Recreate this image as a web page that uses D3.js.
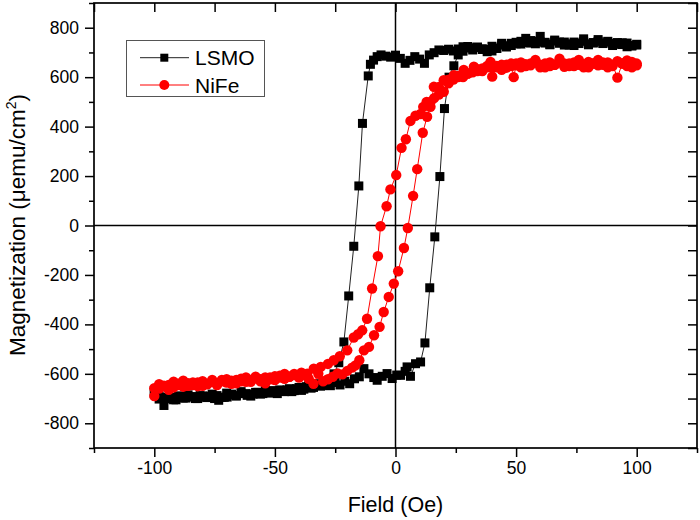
<!DOCTYPE html>
<html><head><meta charset="utf-8">
<script src="https://cdn.jsdelivr.net/npm/d3@7"></script>
<style>
html,body{margin:0;padding:0;background:#fff;}
svg{display:block;font-family:"Liberation Sans",Arial,sans-serif;}
</style></head>
<body><svg id="chart" width="700" height="520"></svg>
<script>
// ---------- DATA ----------
const seriesNames = ["LSMO", "NiFe"];
const xMajorTicks = [-100, -50, 0, 50, 100];
const yMajorTicks = [-800, -600, -400, -200, 0, 200, 400, 600, 800];

const LSMO_desc_field = [100,98,96,94,92,90,88,86,84,82,80,78,76,74,72,70,68,66,64,62,60,58,56,54,52,50,48,46,44,42,40,38,36,34,32,30,28,26,24,22,20,18,16,14,12,10,8,6,4,2,0,-2,-4,-6,-7.6,-9.1,-10.4,-11.3,-13.7,-15.2,-17.3,-19.4,-21.4,-23.5,-25.5,-27.5,-29.7,-32,-34,-36,-38,-40,-42,-44,-46,-48,-50,-52,-54,-56,-58,-60,-62,-64,-66,-68,-70,-72,-74,-76,-78,-80,-82,-84,-86,-88,-90,-92,-94,-96,-98,-100];
const LSMO_desc_mag = [730,726,723,739,733,728,742,736,745,738,731,755,736,728,730,742,737,746,731,741,765,746,738,757,734,741,737,727,737,716,706,703,712,720,719,724,723,714,706,713,708,710,699,690,656,673,683,668,656,676,689,681,685,690,683,669,652,605,413,160,-84,-285,-471,-555,-600,-625,-647,-640,-655,-648,-662,-655,-668,-660,-672,-665,-670,-678,-668,-682,-675,-690,-680,-672,-688,-682,-678,-695,-688,-682,-696,-690,-700,-692,-685,-698,-690,-705,-700,-695,-702,-680];
const LSMO_asc_field = [-100,-98,-96,-94.7,-93,-91,-89,-87,-85,-83,-81,-79,-77,-75,-73.3,-71,-69.8,-68,-66,-64,-61.5,-59,-57,-55,-53,-51,-49,-47,-45,-43,-41,-39,-37,-35,-33,-31,-29,-27,-25,-23,-21,-19,-17,-15,-13.1,-11,-9,-7.6,-5.5,-3.5,-1.4,0.5,2.1,4,4.8,6.2,8.3,10.4,12.2,14.2,16.3,18.4,20.3,22.2,24.2,26,28,30,32,34,36,38,40,42,44,46,48,50,52,54,56,58,60,62,64,66,68,70,72,74,76,78,80,82,84,86,88,90,92,94,96,98,100];
const LSMO_asc_mag = [-667,-690,-728,-701,-695,-705,-690,-698,-694,-700,-688,-695,-690,-700,-707,-695,-694,-685,-690,-680,-687,-682,-675,-680,-672,-668,-680,-670,-665,-672,-660,-667,-652,-658,-645,-650,-640,-648,-635,-645,-630,-640,-620,-612,-579,-600,-615,-626,-610,-599,-619,-605,-606,-590,-572,-610,-559,-552,-475,-252,-46,198,473,600,646,690,705,718,710,722,715,712,725,718,730,722,728,735,745,740,748,735,742,738,733,750,742,730,735,742,738,745,735,740,752,738,745,736,740,732,738,728,733];

const NiFe_desc_field = [100,98,96,94,92,90,88,86,84,82,80,78,76,74,72,70,68,66,64,62,60,58,56,54,52,50,48,46,44,42,40,38,36,34,32,30,28,26,24,22,20,18,16,14.5,12.9,11.5,10.4,8.3,6.2,4.3,2.5,0.3,-2.1,-3.7,-6.2,-7.3,-9.7,-11.8,-13.8,-15.5,-17.3,-20,-23.1,-25.6,-28,-31,-33.9,-36.6,-39,-42,-44,-46,-48,-50,-52,-54,-56,-58,-60,-62,-64,-66,-68,-70,-72,-74,-76,-78,-80,-82,-84,-86,-88,-90,-92,-94,-96,-98,-100];
const NiFe_desc_mag = [648,662,645,655,598,650,640,660,648,655,640,652,670,645,655,642,660,650,645,655,640,662,648,652,640,655,645,650,630,645,638,640,625,632,620,615,600,605,590,575,541,530,515,500,500,480,451,444,423,349,314,204,146,78,-3,-124,-255,-377,-424,-440,-453,-505,-529,-545,-560,-572,-579,-599,-595,-605,-612,-600,-615,-610,-622,-615,-630,-618,-625,-632,-620,-638,-628,-635,-625,-642,-632,-640,-648,-635,-645,-638,-652,-640,-655,-645,-650,-642,-658,-662,-668];
const NiFe_asc_field = [-100,-98,-96,-94,-92,-90,-88,-86,-84,-82,-80,-78,-76,-74,-72,-70,-68,-66,-64,-62,-60,-58,-56,-54,-52,-50,-48,-46,-44,-42,-40,-38,-36,-34,-32,-30,-28,-26,-24,-22,-20,-18,-16.6,-15,-13.1,-11,-8.9,-6.6,-4.9,-2.8,-0.7,1.1,3.5,5.1,7.3,9,11.3,13.1,14.5,15.9,18,20,22,24.2,26,28.3,30,32.5,34,36,38,39.4,40.1,42,44,46,48,49,50,52,54,56,58,60,62,64,66,68,70,72,74,76,78,80,82,84,86,88,90,92,94,96,98,100];
const NiFe_asc_mag = [-690,-660,-648,-665,-632,-645,-628,-648,-635,-650,-630,-642,-625,-645,-630,-622,-640,-625,-630,-615,-632,-612,-622,-638,-615,-625,-608,-620,-612,-600,-615,-605,-620,-640,-600,-630,-622,-612,-598,-602,-588,-575,-566,-545,-505,-491,-444,-410,-350,-289,-235,-185,-91,-10,120,228,375,440,480,561,560,588,590,608,600,629,615,642,625,635,645,662,602,640,650,638,655,600,648,660,645,655,670,650,640,660,650,675,655,645,660,650,640,662,655,670,650,660,645,665,655,668,640,655];

// ---------- LAYOUT ----------
const svg = d3.select("#chart");
const L = 94, R = 697, T = 3, B = 448;
const x = d3.scaleLinear().domain([-125, 125]).range([L, R]);
const y = d3.scaleLinear().domain([-900, 900]).range([B, T]);

const xMinor = d3.range(-125, 126, 25).filter(v => !xMajorTicks.includes(v));
const xAll = d3.range(-125, 126, 25);
const yMinor = d3.range(-900, 901, 100).filter(v => !yMajorTicks.includes(v));
const yAll = d3.range(-900, 901, 100);
const fmt = d => String(d);

function styleAxis(g){
  g.select(".domain").remove();
  g.selectAll(".tick line").attr("stroke", "#000").attr("stroke-width", 1.5);
  g.selectAll(".tick text").attr("fill", "#000").style("font-size", "17.5px")
    .style("font-family", '"Liberation Sans",Arial,sans-serif');
}

// bottom axis
svg.append("g").attr("transform", `translate(0,${B})`)
  .call(d3.axisBottom(x).tickValues(xMajorTicks).tickSize(9).tickPadding(5).tickFormat(fmt))
  .call(styleAxis);
svg.append("g").attr("transform", `translate(0,${B})`)
  .call(d3.axisBottom(x).tickValues(xMinor).tickSize(5).tickFormat(""))
  .call(styleAxis);
// top axis (inward)
svg.append("g").attr("transform", `translate(0,${T})`)
  .call(d3.axisTop(x).tickValues(xAll).tickSize(-9).tickFormat(""))
  .call(styleAxis);
// left axis
svg.append("g").attr("transform", `translate(${L},0)`)
  .call(d3.axisLeft(y).tickValues(yMajorTicks).tickSize(9).tickPadding(6).tickFormat(fmt))
  .call(styleAxis);
svg.append("g").attr("transform", `translate(${L},0)`)
  .call(d3.axisLeft(y).tickValues(yMinor).tickSize(5).tickFormat(""))
  .call(styleAxis);
// right axis (inward)
svg.append("g").attr("transform", `translate(${R},0)`)
  .call(d3.axisRight(y).tickValues(yAll).tickSize(-9).tickFormat(""))
  .call(styleAxis);

// zero lines
svg.append("line").attr("x1", L).attr("x2", R).attr("y1", y(0)).attr("y2", y(0))
  .attr("stroke", "#000").attr("stroke-width", 1.5);
svg.append("line").attr("x1", x(0)).attr("x2", x(0)).attr("y1", T).attr("y2", B)
  .attr("stroke", "#000").attr("stroke-width", 1.5);

// frame
svg.append("rect").attr("x", L).attr("y", T).attr("width", R - L).attr("height", B - T)
  .attr("fill", "none").attr("stroke", "#000").attr("stroke-width", 1.7);

// ---------- DATA MARKS ----------
function pts(f, m){ return f.map((v, i) => ({f: v, m: m[i]})); }
const lsmo = pts(LSMO_desc_field, LSMO_desc_mag).concat(pts(LSMO_asc_field, LSMO_asc_mag));
const nife = pts(NiFe_desc_field, NiFe_desc_mag).concat(pts(NiFe_asc_field, NiFe_asc_mag));

const line = d3.line().x(d => x(d.f)).y(d => y(d.m));

svg.append("path").datum(lsmo).attr("d", line).attr("fill", "none")
  .attr("stroke", "#222").attr("stroke-width", 1);
const sq = 9;
svg.append("g").selectAll("rect").data(lsmo).join("rect")
  .attr("x", d => x(d.f) - sq/2).attr("y", d => y(d.m) - sq/2)
  .attr("width", sq).attr("height", sq).attr("fill", "#000");

svg.append("path").datum(nife).attr("d", line).attr("fill", "none")
  .attr("stroke", "#ff0000").attr("stroke-width", 1);
svg.append("g").selectAll("circle").data(nife).join("circle")
  .attr("cx", d => x(d.f)).attr("cy", d => y(d.m)).attr("r", 5.2).attr("fill", "#ff0000");

// ---------- LEGEND ----------
const lg = svg.append("g");
lg.append("rect").attr("x", 126.5).attr("y", 40.5).attr("width", 138).attr("height", 56)
  .attr("fill", "#fff").attr("stroke", "#555").attr("stroke-width", 1);
const legendRows = [
  {name: seriesNames[0], color: "#000", line: "#222", y: 57.7, shape: "square"},
  {name: seriesNames[1], color: "#ff0000", line: "#ff0000", y: 85, shape: "circle"}
];
legendRows.forEach(r => {
  lg.append("line").attr("x1", 140).attr("x2", 189).attr("y1", r.y).attr("y2", r.y)
    .attr("stroke", r.line).attr("stroke-width", 1);
  if (r.shape === "square") {
    lg.append("rect").attr("x", 164.3 - 4).attr("y", r.y - 4).attr("width", 8).attr("height", 8).attr("fill", r.color);
  } else {
    lg.append("circle").attr("cx", 164.3).attr("cy", r.y).attr("r", 5).attr("fill", r.color);
  }
  lg.append("text").attr("x", 195).attr("y", r.y + 7.5).text(r.name)
    .style("font-size", "21px").attr("fill", "#000");
});

// ---------- AXIS TITLES ----------
svg.append("text").attr("x", x(0)).attr("y", 512).attr("text-anchor", "middle")
  .style("font-size", "21.5px").attr("fill", "#000").text("Field (Oe)");

const yl = svg.append("text").attr("transform", "translate(25,225) rotate(-90)")
  .attr("text-anchor", "middle").style("font-size", "22.5px").attr("fill", "#000");
yl.append("tspan").text("Magnetization (\u03BCemu/cm");
yl.append("tspan").attr("dy", -9).style("font-size", "14px").text("2");
yl.append("tspan").attr("dy", 9).text(")");
</script>
</body></html>
